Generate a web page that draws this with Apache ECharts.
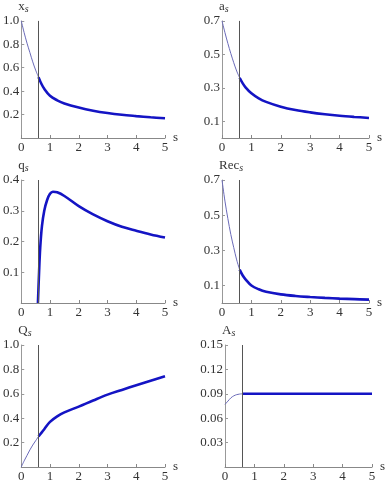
<!DOCTYPE html>
<html>
<head>
<meta charset="utf-8">
<script src="https://cdn.jsdelivr.net/npm/echarts@6/dist/echarts.min.js"></script>
<style>
  html, body { margin: 0; padding: 0; background: #fff; }
  #main { width: 388px; height: 495px; }
</style>
</head>
<body>
<div id="main"></div>
<script>
// s grid for the part before the switch point and after it
var sThin = [0, 0.1, 0.2, 0.3, 0.4, 0.5, 0.6];
var sThick = [0.6, 0.7, 0.8, 1.0, 1.25, 1.5, 2, 2.5, 3, 3.5, 4, 4.5, 5];
var sSwitch = 0.6;

var xThin = [1.0, 0.9, 0.81, 0.73, 0.65, 0.58, 0.52];
var xThick = [0.52, 0.463, 0.42, 0.36, 0.322, 0.295, 0.26, 0.233, 0.213, 0.198, 0.187, 0.177, 0.168];

var aThin = [0.70, 0.63, 0.565, 0.505, 0.45, 0.40, 0.36];
var aThick = [0.36, 0.328, 0.303, 0.267, 0.237, 0.216, 0.187, 0.167, 0.153, 0.142, 0.133, 0.126, 0.12];

var qS = [0.58, 0.62, 0.66, 0.72, 0.8, 0.9, 1.0, 1.1, 1.25, 1.5, 2, 2.5, 3, 3.5, 4, 4.5, 5];
var qVals = [0, 0.1, 0.18, 0.25, 0.3, 0.335, 0.355, 0.362, 0.36, 0.348, 0.315, 0.288, 0.266, 0.248, 0.235, 0.223, 0.213];

var recThin = [0.70, 0.58, 0.48, 0.39, 0.315, 0.245, 0.19];
var recThick = [0.19, 0.158, 0.135, 0.1, 0.078, 0.064, 0.049, 0.04, 0.034, 0.029, 0.025, 0.022, 0.019];

var bigQThin = [0, 0.05, 0.095, 0.14, 0.18, 0.215, 0.25];
var bigQThick = [0.25, 0.28, 0.31, 0.37, 0.415, 0.448, 0.495, 0.545, 0.593, 0.632, 0.67, 0.707, 0.743];

var AThin = [0.077, 0.081, 0.085, 0.0875, 0.089, 0.0897, 0.09];
var AThick = [0.09, 0.09, 0.09, 0.09, 0.09, 0.09, 0.09, 0.09, 0.09, 0.09, 0.09, 0.09, 0.09];

var xTicks = [0, 1, 2, 3, 4, 5];

var panels = [
  { name: 'x', max: 1.0, ticks: [0.2, 0.4, 0.6, 0.8, 1.0], dec: 1, thinS: sThin, thin: xThin, thickS: sThick, thick: xThick,
    grid: { left: 17, width: 148, top: 15, height: 123 } },
  { name: 'a', max: 0.7, ticks: [0.1, 0.3, 0.5, 0.7], dec: 1, thinS: sThin, thin: aThin, thickS: sThick, thick: aThick,
    grid: { left: 222, width: 147, top: 15, height: 123 } },
  { name: 'q', max: 0.4, ticks: [0.1, 0.2, 0.3, 0.4], dec: 1, thinS: [], thin: [], thickS: qS, thick: qVals,
    grid: { left: 17, width: 148, top: 180, height: 123 } },
  { name: 'Rec', max: 0.7, ticks: [0.1, 0.3, 0.5, 0.7], dec: 1, thinS: sThin, thin: recThin, thickS: sThick, thick: recThick,
    grid: { left: 222, width: 147, top: 180, height: 123 } },
  { name: 'Q', max: 1.0, ticks: [0.2, 0.4, 0.6, 0.8, 1.0], dec: 1, thinS: sThin, thin: bigQThin, thickS: sThick, thick: bigQThick,
    grid: { left: 17, width: 148, top: 345, height: 122 } },
  { name: 'A', max: 0.15, ticks: [0.03, 0.06, 0.09, 0.12, 0.15], dec: 2, thinS: sThin, thin: AThin, thickS: sThick, thick: AThick,
    grid: { left: 225, width: 147, top: 345, height: 122 } }
];

function pairs(xs, ys) {
  return xs.map(function (s, i) { return [s, ys[i]]; });
}

var font = '"Liberation Serif", "DejaVu Serif", serif';
var grids = [], xAxes = [], yAxes = [], series = [];

panels.forEach(function (p, i) {
  grids.push(p.grid);
  xAxes.push({
    type: 'value', gridIndex: i, min: 0, max: 5, interval: 1,
    name: 's', nameLocation: 'end', nameGap: 8,
    nameTextStyle: { fontFamily: font, fontSize: 13, color: '#333', verticalAlign: 'middle' },
    axisLine: { lineStyle: { color: '#888', width: 1 } },
    axisTick: { show: true, inside: true, length: 3, lineStyle: { color: '#888' }, customValues: xTicks },
    axisLabel: { fontFamily: font, fontSize: 13, color: '#333', margin: 3, customValues: xTicks },
    splitLine: { show: false }
  });
  yAxes.push({
    type: 'value', gridIndex: i, min: 0, max: p.max,
    name: '{b|' + p.name + '}{sub|s}', nameLocation: 'end', nameGap: 0,
    nameTextStyle: {
      align: 'left', verticalAlign: 'bottom', padding: [0, 0, -6, -3],
      rich: {
        b: { fontFamily: font, fontSize: 13, color: '#333' },
        sub: { fontFamily: font, fontSize: 10, color: '#333', fontStyle: 'italic', verticalAlign: 'bottom', padding: [6, 0, 0, 0] }
      }
    },
    axisLine: { show: true, lineStyle: { color: '#999', width: 1 } },
    axisTick: { show: true, inside: true, length: 3, lineStyle: { color: '#999' }, customValues: p.ticks },
    axisLabel: {
      fontFamily: font, fontSize: 13, color: '#333', margin: 2, customValues: p.ticks,
      formatter: function (v) { return v.toFixed(p.dec); }
    },
    splitLine: { show: false }
  });
  series.push({
    type: 'line', xAxisIndex: i, yAxisIndex: i, showSymbol: false, smooth: 0.35,
    data: pairs(p.thinS, p.thin),
    lineStyle: { color: '#6a6ab8', width: 1 },
    silent: true,
    markLine: {
      silent: true, symbol: 'none', label: { show: false },
      lineStyle: { color: '#555', width: 1, type: 'solid' },
      data: [[{ coord: [sSwitch, 0] }, { coord: [sSwitch, p.max] }]]
    }
  });
  series.push({
    type: 'line', xAxisIndex: i, yAxisIndex: i, showSymbol: false, smooth: 0.35,
    data: pairs(p.thickS, p.thick),
    lineStyle: { color: '#1414c4', width: 2.6 },
    silent: true
  });
});

var myChart = echarts.init(document.getElementById('main'));
myChart.setOption({
  animation: false,
  grid: grids,
  xAxis: xAxes,
  yAxis: yAxes,
  series: series
});
</script>
</body>
</html>
